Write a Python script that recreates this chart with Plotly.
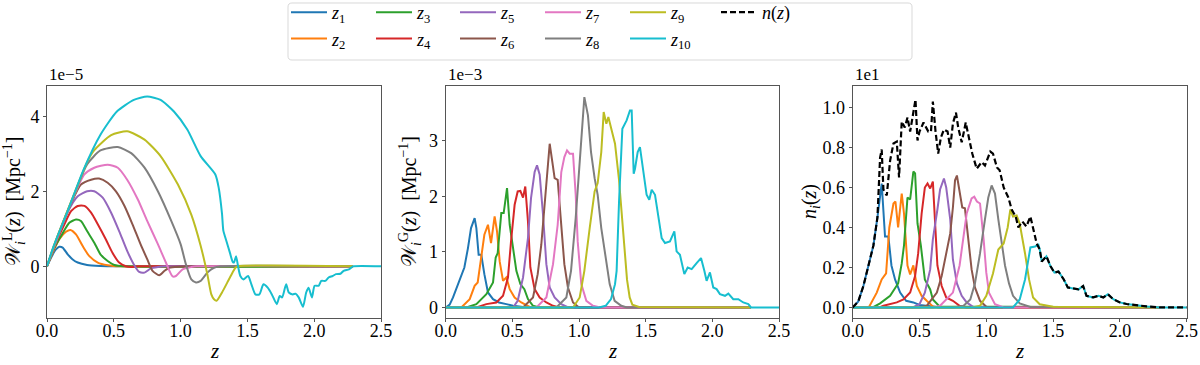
import plotly.graph_objects as go

# tab10 colours, one per tomographic bin
colors = ['#1f77b4', '#ff7f0e', '#2ca02c', '#d62728', '#9467bd',
          '#8c564b', '#e377c2', '#7f7f7f', '#bcbd22', '#17becf']
bin_names = ['<i>z</i><sub>%d</sub>' % i for i in range(1, 11)]

# ---- left panel: lensing kernels W^L_i(z), units of 1e-5 Mpc^-1 ----
wl1_z = [0, 0.03, 0.067, 0.092, 0.117, 0.155, 0.19, 0.23, 0.30, 0.40, 0.53, 2.29]
wl1 = [0, 0.23, 0.45, 0.52, 0.50, 0.32, 0.19, 0.10, 0.035, 0.01, 0, 0]
wl2_z = [0, 0.042, 0.092, 0.142, 0.175, 0.217, 0.267, 0.317, 0.38, 0.454, 0.55, 2.29]
wl2 = [0, 0.36, 0.72, 0.92, 0.97, 0.85, 0.54, 0.27, 0.10, 0.03, 0, 0]
wl3_z = [0, 0.05, 0.117, 0.167, 0.217, 0.254, 0.30, 0.354, 0.40, 0.454, 0.504, 0.58, 2.29]
wl3 = [0, 0.45, 0.88, 1.16, 1.25, 1.21, 0.94, 0.63, 0.32, 0.14, 0.035, 0, 0]
wl4_z = [0, 0.05, 0.13, 0.18, 0.23, 0.28, 0.33, 0.38, 0.44, 0.49, 0.54, 0.59, 0.63, 0.68, 2.29]
wl4 = [0, 0.48, 1.12, 1.47, 1.61, 1.61, 1.43, 1.12, 0.72, 0.36, 0.10, 0, -0.02, 0, 0]
wl5_z = [0, 0.05, 0.10, 0.155, 0.23, 0.30, 0.354, 0.417, 0.48, 0.54, 0.60, 0.65, 0.69, 0.73,
         0.78, 0.83, 0.88, 2.29]
wl5 = [0, 0.49, 0.95, 1.45, 1.87, 2.0, 2.0, 1.83, 1.43, 0.94, 0.41, 0.05, -0.15, -0.17,
       -0.05, -0.02, 0, 0]
wl6_z = [0, 0.05, 0.10, 0.18, 0.254, 0.33, 0.39, 0.454, 0.516, 0.58, 0.64, 0.70, 0.75, 0.79,
         0.84, 0.88, 0.915, 0.98, 2.29]
wl6 = [0, 0.5, 0.97, 1.68, 2.18, 2.31, 2.34, 2.23, 2.0, 1.61, 1.12, 0.59, 0.19, -0.12,
       -0.24, -0.12, -0.04, -0.01, 0]
wl7_z = [0, 0.05, 0.10, 0.18, 0.28, 0.354, 0.454, 0.53, 0.60, 0.68, 0.75, 0.83, 0.89, 0.94,
         0.965, 1.015, 1.08, 1.12, 2.29]
wl7 = [0, 0.5, 0.97, 1.7, 2.45, 2.63, 2.71, 2.63, 2.31, 1.78, 1.21, 0.59, 0.10, -0.27,
       -0.26, -0.08, -0.02, 0, 0]
wl8_z = [0, 0.05, 0.10, 0.20, 0.30, 0.40, 0.53, 0.63, 0.73, 0.83, 0.93, 1.0, 1.04, 1.08,
         1.115, 1.15, 1.2, 1.25, 1.3, 2.29]
wl8 = [0, 0.52, 1.0, 1.88, 2.72, 3.09, 3.18, 3.02, 2.63, 2.0, 1.21, 0.59, 0.05, -0.35,
       -0.43, -0.39, -0.17, -0.04, 0, 0]
wl9_z = [0, 0.05, 0.10, 0.20, 0.30, 0.354, 0.48, 0.60, 0.73, 0.85, 0.98, 1.08, 1.15, 1.2,
         1.23, 1.25, 1.27, 1.31, 1.35, 1.375, 1.41, 1.43, 2.29]
wl9 = [0, 0.53, 1.0, 1.9, 2.78, 3.1, 3.5, 3.6, 3.38, 2.94, 2.18, 1.38, 0.55, -0.21,
       -0.75, -0.88, -0.92, -0.70, -0.43, -0.26, -0.04, 0, 0]
wl10_z = [0, 0.05, 0.15, 0.274, 0.40, 0.523, 0.65, 0.75, 0.85, 0.95, 1.05, 1.15, 1.26, 1.285,
          1.31, 1.32, 1.345, 1.37, 1.39, 1.40, 1.415, 1.43, 1.447, 1.47, 1.505, 1.53, 1.56,
          1.59, 1.62, 1.652, 1.683, 1.72, 1.742, 1.76, 1.79, 1.81, 1.84, 1.86, 1.884, 1.916,
          1.94, 1.958, 1.983, 2.003, 2.033, 2.053, 2.083, 2.108, 2.138, 2.163, 2.196, 2.22,
          2.26, 2.283, 2.295, 2.5]
wl10 = [0, 0.54, 1.43, 2.58, 3.51, 4.13, 4.44, 4.53, 4.44, 4.13, 3.65, 2.94, 2.45, 2.1,
        1.4, 0.95, 0.65, 0.35, 0.12, 0.1, 0.27, 0, -0.26, -0.35, -0.26, -0.48, -0.75,
        -0.75, -0.48, -0.57, -0.75, -1.01, -0.79, -0.83, -0.48, -0.7, -0.75, -0.73, -0.83, -1.08,
        -0.70, -0.57, -0.83, -0.52, -0.52, -0.39, -0.39, -0.30, -0.26, -0.21, -0.2, -0.12,
        -0.08, -0.02, 0, 0]

# ---- middle panel: clustering kernels W^G_i(z), units of 1e-3 Mpc^-1 ----
wg1_z = [0, 0.03, 0.055, 0.105, 0.14, 0.167, 0.19, 0.217, 0.23, 0.247, 0.267, 0.29, 0.317,
         0.355, 0.40, 0.455, 0.505, 0.58, 0.65, 2.29]
wg1 = [0, 0.05, 0.18, 0.48, 0.72, 1.07, 1.43, 1.61, 1.43, 0.95, 0.95, 0.6, 0.27,
       0.15, 0.09, 0.06, 0.03, 0.01, 0, 0]
wg2_z = [0, 0.117, 0.18, 0.217, 0.24, 0.267, 0.29, 0.317, 0.34, 0.367, 0.385, 0.405, 0.43,
         0.455, 0.48, 0.517, 0.567, 0.63, 2.29]
wg2 = [0, 0, 0.15, 0.39, 0.45, 0.9, 1.31, 1.49, 1.16, 1.64, 1.37, 0.83, 0.48,
       0.54, 0.33, 0.18, 0.09, 0.01, 0]
wg3_z = [0, 0.155, 0.23, 0.305, 0.355, 0.375, 0.39, 0.417, 0.435, 0.46, 0.48, 0.505, 0.53,
         0.56, 0.59, 0.617, 0.655, 0.70, 2.29]
wg3 = [0, 0, 0.06, 0.24, 0.45, 0.9, 0.98, 1.70, 1.70, 2.15, 1.49, 1.07, 0.66,
       0.42, 0.33, 0.15, 0.03, 0, 0]
wg4_z = [0, 0.23, 0.305, 0.38, 0.43, 0.467, 0.49, 0.517, 0.54, 0.56, 0.58, 0.597, 0.617,
         0.635, 0.667, 0.705, 0.755, 0.805, 0.85, 2.29]
wg4 = [0, 0, 0.06, 0.09, 0.21, 0.54, 1.19, 1.85, 2.09, 2.1, 1.98, 2.18, 1.55,
       0.72, 0.33, 0.18, 0.09, 0.03, 0, 0]
wg5_z = [0, 0.505, 0.54, 0.58, 0.617, 0.64, 0.667, 0.685, 0.705, 0.73, 0.755, 0.78, 0.817,
         0.867, 0.92, 2.29]
wg5 = [0, 0, 0.12, 0.54, 1.25, 1.97, 2.44, 2.56, 2.39, 1.67, 0.78, 0.36, 0.18,
       0.06, 0, 0]
wg6_z = [0, 0.58, 0.655, 0.69, 0.717, 0.74, 0.76, 0.78, 0.8, 0.817, 0.84, 0.867, 0.89,
         0.917, 0.955, 1.0, 2.29]
wg6 = [0, 0, 0.18, 0.6, 1.13, 1.79, 2.5, 2.95, 2.62, 2.33, 2.3, 1.49, 0.78,
       0.36, 0.09, 0, 0]
wg7_z = [0, 0.68, 0.755, 0.805, 0.84, 0.867, 0.89, 0.91, 0.93, 0.955, 0.975, 0.99, 1.017,
         1.055, 1.105, 1.16, 2.29]
wg7 = [0, 0, 0.18, 0.78, 1.49, 2.44, 2.71, 2.83, 2.77, 2.77, 2.03, 1.19, 0.42,
       0.12, 0.03, 0, 0]
wg8_z = [0, 0.83, 0.905, 0.94, 0.975, 1.005, 1.025, 1.04, 1.067, 1.09, 1.117, 1.14, 1.167,
         1.2, 1.23, 1.267, 1.317, 1.36, 2.29]
wg8 = [0, 0, 0.18, 0.66, 1.61, 2.62, 3.34, 3.79, 3.46, 2.8, 2.33, 2.03, 1.43,
       0.89, 0.42, 0.12, 0.03, 0, 0]
wg9_z = [0, 0.955, 1.005, 1.04, 1.08, 1.117, 1.14, 1.167, 1.185, 1.205, 1.22, 1.24, 1.27,
         1.30, 1.33, 1.36, 1.38, 1.40, 1.45, 2.29]
wg9 = [0, 0, 0.18, 0.66, 1.43, 2.09, 2.24, 2.8, 3.52, 3.31, 3.43, 3.22, 2.95,
       2.3, 1.4, 0.5, 0.18, 0.05, 0.01, 0]
wg10_z = [0, 1.15, 1.2, 1.24, 1.27, 1.282, 1.3, 1.325, 1.357, 1.382, 1.395, 1.41, 1.42, 1.44,
          1.457, 1.482, 1.507, 1.527, 1.545, 1.57, 1.595, 1.62, 1.645, 1.682, 1.715, 1.732,
          1.757, 1.79, 1.815, 1.845, 1.882, 1.915, 1.94, 1.957, 1.982, 2.007, 2.032, 2.057,
          2.095, 2.12, 2.157, 2.195, 2.232, 2.27, 2.29, 2.5]
wg10 = [0, 0, 0.03, 0.15, 0.42, 0.66, 1.9, 3.22, 3.37, 3.55, 3.55, 2.41, 2.5, 2.8,
        2.89, 2.44, 2.03, 1.94, 2.12, 2.03, 1.61, 1.25, 1.16, 1.19, 1.37, 1.01,
        0.95, 0.6, 0.72, 0.69, 0.8, 0.89, 0.66, 0.48, 0.63, 0.36, 0.33, 0.24,
        0.21, 0.25, 0.15, 0.15, 0.09, 0.06, 0, 0]

# ---- right panel: redshift distributions n_i(z) and total n(z), units of 1e1 ----
n1_z = [0, 0.042, 0.08, 0.117, 0.155, 0.185, 0.205, 0.217, 0.242, 0.267, 0.29, 0.317, 0.355,
        0.40, 0.454, 0.50, 0.60, 0.65, 2.29]
n1 = [0, 0.03, 0.107, 0.21, 0.31, 0.45, 0.55, 0.62, 0.355, 0.355, 0.21, 0.14, 0.074,
      0.033, 0.025, 0.012, 0.005, 0, 0]
n2_z = [0, 0.12, 0.18, 0.217, 0.25, 0.274, 0.305, 0.32, 0.34, 0.367, 0.384, 0.41, 0.43,
        0.454, 0.48, 0.516, 0.554, 0.60, 0.65, 2.29]
n2 = [0, 0, 0.074, 0.14, 0.17, 0.40, 0.52, 0.53, 0.40, 0.57, 0.47, 0.21, 0.165,
      0.21, 0.107, 0.058, 0.033, 0.005, 0, 0]
n3_z = [0, 0.15, 0.205, 0.28, 0.34, 0.367, 0.384, 0.41, 0.43, 0.454, 0.467, 0.485, 0.51,
        0.54, 0.58, 0.60, 0.65, 2.29]
n3 = [0, 0, 0.02, 0.058, 0.12, 0.22, 0.31, 0.55, 0.54, 0.68, 0.67, 0.42, 0.31,
      0.14, 0.09, 0.04, 0.005, 0]
n4_z = [0, 0.2, 0.23, 0.33, 0.38, 0.43, 0.467, 0.49, 0.516, 0.54, 0.56, 0.58, 0.60, 0.616,
        0.634, 0.666, 0.70, 0.75, 0.80, 0.85, 2.29]
n4 = [0, 0, 0.008, 0.025, 0.04, 0.075, 0.157, 0.27, 0.47, 0.60, 0.62, 0.595, 0.63, 0.44,
      0.21, 0.107, 0.05, 0.033, 0.008, 0, 0]
n5_z = [0, 0.45, 0.50, 0.54, 0.58, 0.60, 0.634, 0.654, 0.683, 0.70, 0.73, 0.75, 0.78,
        0.816, 0.853, 0.90, 2.29]
n5 = [0, 0, 0.016, 0.074, 0.19, 0.34, 0.49, 0.59, 0.645, 0.60, 0.44, 0.24, 0.12,
      0.058, 0.025, 0.003, 0]
n6_z = [0, 0.5, 0.554, 0.63, 0.666, 0.70, 0.73, 0.75, 0.766, 0.78, 0.80, 0.82, 0.84, 0.866,
        0.89, 0.915, 0.953, 1.0, 2.29]
n6 = [0, 0, 0.008, 0.074, 0.157, 0.27, 0.37, 0.50, 0.636, 0.66, 0.587, 0.50, 0.496, 0.34,
      0.19, 0.1, 0.033, 0.003, 0]
n7_z = [0, 0.6, 0.654, 0.75, 0.80, 0.828, 0.853, 0.89, 0.91, 0.93, 0.953, 0.98, 1.0, 1.02,
        1.065, 1.13, 2.29]
n7 = [0, 0, 0.008, 0.074, 0.21, 0.34, 0.47, 0.545, 0.554, 0.53, 0.52, 0.34, 0.174, 0.074,
      0.016, 0, 0]
n8_z = [0, 0.75, 0.83, 0.88, 0.915, 0.953, 0.99, 1.015, 1.04, 1.065, 1.09, 1.115, 1.14,
        1.17, 1.20, 1.25, 1.33, 2.29]
n8 = [0, 0, 0.008, 0.04, 0.12, 0.27, 0.44, 0.55, 0.61, 0.57, 0.44, 0.32, 0.21,
      0.12, 0.058, 0.02, 0.002, 0]
n9_z = [0, 0.9, 0.953, 1.0, 1.05, 1.09, 1.13, 1.16, 1.18, 1.20, 1.227, 1.25, 1.29, 1.32,
        1.35, 1.40, 1.50, 2.29]
n9 = [0, 0, 0.008, 0.058, 0.17, 0.29, 0.32, 0.40, 0.49, 0.455, 0.46, 0.42, 0.27, 0.14,
      0.05, 0.016, 0.003, 0]
n10_z = [0, 1.2, 1.25, 1.29, 1.315, 1.33, 1.365, 1.39, 1.40, 1.415, 1.45, 1.48, 1.51, 1.54,
         1.58, 1.61, 1.65, 1.69, 1.725, 1.75, 1.80, 1.84, 1.876, 1.91, 1.95, 2.0, 2.05,
         2.10, 2.2, 2.3, 2.5]
n10 = [0, 0, 0.04, 0.14, 0.24, 0.30, 0.305, 0.314, 0.29, 0.23, 0.256, 0.207, 0.174, 0.18,
       0.14, 0.10, 0.095, 0.09, 0.107, 0.058, 0.05, 0.058, 0.05, 0.066, 0.041, 0.025, 0.017,
       0.012, 0.005, 0, 0]
ntot_z = [0, 0.042, 0.08, 0.117, 0.155, 0.185, 0.205, 0.217, 0.23, 0.255, 0.28, 0.305, 0.33,
          0.347, 0.367, 0.39, 0.41, 0.43, 0.454, 0.47, 0.485, 0.50, 0.53, 0.566, 0.586, 0.60,
          0.62, 0.64, 0.66, 0.683, 0.71, 0.73, 0.75, 0.773, 0.79, 0.816, 0.846, 0.87, 0.895,
          0.928, 0.965, 0.99, 1.03, 1.05, 1.08, 1.10, 1.13, 1.165, 1.19, 1.22, 1.24, 1.27,
          1.30, 1.33, 1.35, 1.377, 1.40, 1.415, 1.45, 1.48, 1.51, 1.54, 1.58, 1.61, 1.65,
          1.69, 1.725, 1.75, 1.80, 1.84, 1.876, 1.91, 1.95, 2.0, 2.05, 2.10, 2.2, 2.3, 2.5]
ntot = [0, 0.03, 0.107, 0.21, 0.31, 0.45, 0.75, 0.79, 0.59, 0.56, 0.735, 0.82, 0.83,
        0.65, 0.93, 0.90, 0.95, 0.88, 0.98, 1.04, 0.835, 0.88, 0.925, 0.88, 0.88, 1.03,
        0.88, 0.77, 0.85, 0.89, 0.88, 0.80, 0.92, 0.975, 0.90, 0.826, 0.925, 0.85, 0.77,
        0.694, 0.727, 0.71, 0.78, 0.77, 0.70, 0.686, 0.60, 0.55, 0.49, 0.455, 0.40, 0.43,
        0.405, 0.455, 0.40, 0.32, 0.29, 0.23, 0.256, 0.207, 0.174, 0.18, 0.14, 0.10, 0.095,
        0.09, 0.107, 0.058, 0.05, 0.058, 0.05, 0.066, 0.041, 0.025, 0.017, 0.012, 0.005, 0, 0]

wl_z = [wl1_z, wl2_z, wl3_z, wl4_z, wl5_z, wl6_z, wl7_z, wl8_z, wl9_z, wl10_z]
wl_v = [wl1, wl2, wl3, wl4, wl5, wl6, wl7, wl8, wl9, wl10]
wg_z = [wg1_z, wg2_z, wg3_z, wg4_z, wg5_z, wg6_z, wg7_z, wg8_z, wg9_z, wg10_z]
wg_v = [wg1, wg2, wg3, wg4, wg5, wg6, wg7, wg8, wg9, wg10]
ni_z = [n1_z, n2_z, n3_z, n4_z, n5_z, n6_z, n7_z, n8_z, n9_z, n10_z]
ni_v = [n1, n2, n3, n4, n5, n6, n7, n8, n9, n10]

FONT = 'Liberation Serif, Times New Roman, serif'
W, H = 1200, 365


def xp(px):
    return px / W


def yp(py):
    return 1 - py / H


fig = go.Figure()

# lensing kernels are smooth curves, so let plotly round off the sampled points
for i in range(10):
    leg = 'legend' if i < 2 else 'legend%d' % (i // 2 + 1)
    fig.add_trace(go.Scatter(x=wl_z[i], y=wl_v[i], mode='lines', name=bin_names[i],
                             line=dict(color=colors[i], width=2, shape='spline',
                                       smoothing=0.6),
                             legend=leg, xaxis='x', yaxis='y'))
for i in range(10):
    fig.add_trace(go.Scatter(x=wg_z[i], y=wg_v[i], mode='lines', showlegend=False,
                             line=dict(color=colors[i], width=2), xaxis='x2', yaxis='y2'))
for i in range(10):
    fig.add_trace(go.Scatter(x=ni_z[i], y=ni_v[i], mode='lines', showlegend=False,
                             line=dict(color=colors[i], width=2), xaxis='x3', yaxis='y3'))
fig.add_trace(go.Scatter(x=ntot_z, y=ntot, mode='lines', name='<i>n</i>(<i>z</i>)',
                         line=dict(color='black', width=2.2, dash='6px,3px'),
                         legend='legend6', xaxis='x3', yaxis='y3'))

axcol = '#555555'
xdoms = [[xp(47), xp(381)], [xp(445.7), xp(779)], [xp(852.7), xp(1186.7)]]
ydom = [yp(318), yp(86)]
yranges = [[-1.38, 4.81], [-0.19, 3.99], [-0.053, 1.108]]
ytickvals = [[0, 2, 4], [0, 1, 2, 3], [0, 0.2, 0.4, 0.6, 0.8, 1.0]]
yformats = ['d', 'd', '.1f']
ytitles = ['𝒲<sub><i>i</i></sub><sup>L</sup>(<i>z</i>)  [Mpc<sup>−1</sup>]',
           '𝒲<sub><i>i</i></sub><sup>G</sup>(<i>z</i>)  [Mpc<sup>−1</sup>]',
           '<i>n<sub>i</sub></i>(<i>z</i>)']
ytitle_x = [14, 410, 811]
offsets = ['1e−5', '1e−3', '1e1']

common = dict(showline=True, linecolor=axcol, linewidth=1, mirror=True, ticks='outside',
              ticklen=3, tickcolor=axcol, showgrid=False, zeroline=False,
              tickfont=dict(family=FONT, size=18, color='black'), automargin=False,
              ticklabeloverflow='allow')
for k in range(3):
    sx = '' if k == 0 else str(k + 1)
    fig.layout['xaxis' + sx] = dict(domain=xdoms[k], range=[0, 2.5], anchor='y' + sx,
                                    tickvals=[0, 0.5, 1.0, 1.5, 2.0, 2.5], tickformat='.1f',
                                    ticklabelstandoff=-7, **common)
    fig.layout['yaxis' + sx] = dict(domain=ydom, range=yranges[k], anchor='x' + sx,
                                    tickvals=ytickvals[k], tickformat=yformats[k], **common)
    # axis titles and matplotlib-style offset labels
    fig.add_annotation(text='<i>z</i>', xref='paper', yref='paper',
                       x=(xdoms[k][0] + xdoms[k][1]) / 2, y=yp(351), xanchor='center',
                       yanchor='middle', showarrow=False,
                       font=dict(family=FONT, size=21, color='black'))
    fig.add_annotation(text=ytitles[k], xref='paper', yref='paper', x=xp(ytitle_x[k]),
                       y=(ydom[0] + ydom[1]) / 2, xanchor='center', yanchor='middle',
                       textangle=-90, showarrow=False,
                       font=dict(family=FONT, size=20, color='black'))
    fig.add_annotation(text=offsets[k], xref='paper', yref='paper', x=xdoms[k][0],
                       y=ydom[1], xanchor='left', yanchor='bottom', showarrow=False,
                       font=dict(family=FONT, size=17, color='black'))

# six legend columns inside one rounded frame
leg_x = [286, 371, 455, 540, 625, 716]
for j, px in enumerate(leg_x):
    key = 'legend' if j == 0 else 'legend%d' % (j + 1)
    fig.layout[key] = dict(x=xp(px), y=yp(-6), xanchor='left', yanchor='top',
                           orientation='v', bgcolor='rgba(0,0,0,0)', borderwidth=0,
                           font=dict(family=FONT, size=18, color='black'), itemwidth=36)

x0, x1, y0, y1, r = xp(288), xp(912), yp(60), yp(3), 4
rx, ry = r / W, r / H
frame = ('M %f,%f L %f,%f Q %f,%f %f,%f L %f,%f Q %f,%f %f,%f L %f,%f Q %f,%f %f,%f '
         'L %f,%f Q %f,%f %f,%f Z') % (
    x0 + rx, y1, x1 - rx, y1, x1, y1, x1, y1 - ry, x1, y0 + ry, x1, y0, x1 - rx, y0,
    x0 + rx, y0, x0, y0, x0, y0 + ry, x0, y1 - ry, x0, y1, x0 + rx, y1)
fig.add_shape(type='path', path=frame, xref='paper', yref='paper',
              line=dict(color='#d9d9d9', width=1))

fig.update_layout(width=W, height=H, margin=dict(l=0, r=0, t=0, b=0, autoexpand=False),
                  plot_bgcolor='white', paper_bgcolor='white',
                  font=dict(family=FONT, color='black'))

# drop the browser's default 8px body margin so the figure fills the window
fig.write_html('out.html', config={'displayModeBar': False},
               post_script="document.body.style.margin = '0';")
